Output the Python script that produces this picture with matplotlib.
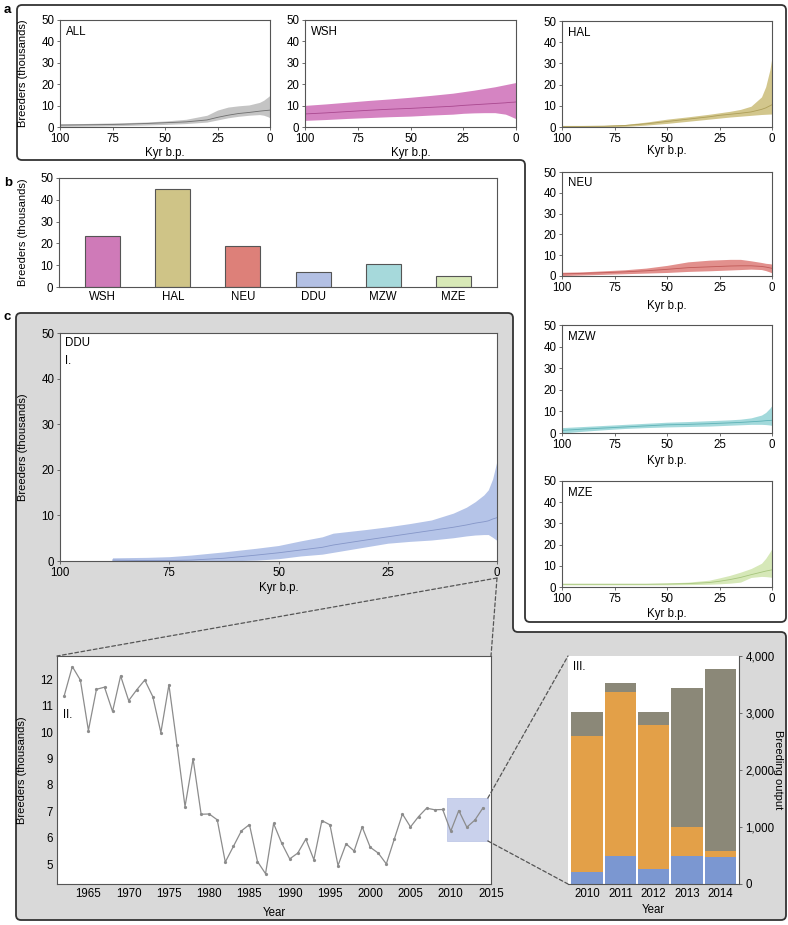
import numpy as np
import matplotlib
matplotlib.use('Agg')
import matplotlib.pyplot as plt
from matplotlib.path import Path
from matplotlib.patches import PathPatch, Rectangle, ConnectionPatch

plt.rcParams['font.family'] = ['Liberation Sans', 'DejaVu Sans']

# ---- data ----
KYR = [100, 90, 80, 70, 60, 50, 40, 30, 25, 20, 15, 10, 5, 3, 1, 0]

all_hi = [1.5, 1.6, 1.8, 2.0, 2.3, 2.8, 3.6, 5.5, 7.9, 9.3, 9.9, 10.3, 11.5, 12.5, 14.0, 14.8]
all_med = [0.9, 1.0, 1.1, 1.3, 1.6, 2.0, 2.4, 3.3, 4.5, 5.5, 6.3, 6.8, 7.4, 7.6, 7.8, 7.9]
all_lo = [0.3, 0.4, 0.5, 0.7, 0.9, 1.2, 1.6, 2.3, 3.3, 4.3, 5.0, 5.5, 5.8, 5.5, 4.8, 4.3]

wsh_hi = [10.1, 10.8, 11.6, 12.4, 13.1, 13.9, 14.8, 15.8, 16.5, 17.2, 18.0, 18.8, 19.8, 20.2, 20.6, 20.8]
wsh_med = [6.1, 6.6, 7.2, 7.8, 8.3, 8.7, 9.2, 9.7, 10.1, 10.4, 10.7, 11.0, 11.3, 11.5, 11.6, 11.7]
wsh_lo = [3.1, 3.5, 4.0, 4.4, 4.8, 5.1, 5.6, 6.0, 6.4, 6.6, 6.7, 6.7, 6.0, 5.2, 4.3, 3.9]

hal_hi = [0.6, 0.6, 0.7, 1.2, 2.3, 3.7, 4.8, 6.0, 6.7, 7.4, 8.3, 9.8, 14.2, 19.0, 27.0, 33.0]
hal_med = [0.3, 0.3, 0.4, 0.7, 1.5, 2.6, 3.7, 4.8, 5.5, 6.0, 6.5, 7.1, 8.3, 9.0, 10.0, 10.5]
hal_lo = [0.0, 0.0, 0.1, 0.3, 0.9, 1.7, 2.7, 3.7, 4.2, 4.7, 5.1, 5.5, 5.9, 6.0, 6.1, 6.1]

neu_hi = [1.8, 2.0, 2.5, 3.0, 3.8, 5.1, 6.8, 7.6, 7.8, 8.0, 8.0, 7.3, 6.5, 6.1, 5.9, 5.7]
neu_med = [1.0, 1.3, 1.6, 2.0, 2.5, 3.2, 4.0, 4.4, 4.6, 4.8, 4.9, 4.9, 4.6, 4.3, 3.9, 3.7]
neu_lo = [0.2, 0.5, 0.8, 1.1, 1.4, 1.7, 2.2, 2.5, 2.7, 2.9, 3.1, 3.3, 3.1, 2.6, 1.9, 1.5]

mzw_hi = [2.5, 3.0, 3.5, 4.0, 4.5, 5.0, 5.3, 5.7, 5.9, 6.1, 6.4, 7.0, 8.3, 9.5, 11.5, 12.8]
mzw_med = [1.2, 1.8, 2.3, 2.8, 3.3, 3.8, 4.0, 4.3, 4.5, 4.7, 4.9, 5.2, 5.5, 5.7, 5.8, 5.9]
mzw_lo = [0.0, 0.8, 1.5, 2.1, 2.5, 2.8, 3.0, 3.2, 3.4, 3.6, 3.8, 4.0, 4.0, 3.9, 3.7, 3.5]

mze_hi = [1.7, 1.7, 1.7, 1.7, 1.7, 1.9, 2.3, 3.2, 4.3, 5.5, 7.0, 8.7, 11.2, 13.5, 16.5, 18.2]
mze_med = [1.3, 1.3, 1.3, 1.3, 1.3, 1.4, 1.6, 2.1, 2.7, 3.5, 4.5, 5.8, 7.0, 7.5, 7.9, 8.1]
mze_lo = [1.0, 1.0, 1.0, 1.0, 1.0, 1.0, 1.1, 1.3, 1.5, 1.8, 2.3, 4.5, 5.0, 4.9, 4.7, 4.5]

DDU_KYR = [88, 80, 75, 70, 62.5, 55, 50, 45, 40, 37.5, 30, 25, 20, 15, 10, 7, 5, 3, 2, 1, 0]
ddu_hi = [0.7, 0.8, 0.95, 1.3, 2.0, 2.8, 3.4, 4.4, 5.3, 6.1, 6.9, 7.5, 8.2, 9.0, 10.5, 11.8, 13.0, 14.5, 15.6, 18.0, 22.0]
ddu_med = [0.2, 0.1, 0.1, 0.2, 0.6, 1.3, 1.8, 2.4, 3.0, 3.5, 4.6, 5.3, 6.0, 6.7, 7.4, 7.9, 8.3, 8.6, 8.8, 9.2, 9.5]
ddu_lo = [0.0, 0.0, 0.0, 0.0, 0.0, 0.2, 0.5, 1.1, 1.5, 1.9, 3.1, 3.9, 4.3, 4.6, 5.1, 5.5, 5.7, 5.8, 5.8, 5.2, 4.5]

regions = ['WSH', 'HAL', 'NEU', 'DDU', 'MZW', 'MZE']
current_breeders = [23.5, 45.0, 19.0, 7.1, 10.4, 5.0]
bar_colors = ['#cf7ab8', '#cfc487', '#dd8079', '#b3c0e4', '#a6d9db', '#d8e9b7']

years = list(range(1962, 2015))
breeders = [11.38, 12.48, 11.97, 10.06, 11.62, 11.70, 10.78, 12.13, 11.19, 11.60,
            11.97, 11.34, 9.98, 11.79, 9.52, 7.18, 8.99, 6.89, 6.90, 6.68,
            5.08, 5.67, 6.26, 6.50, 5.10, 4.64, 6.54, 5.80, 5.20, 5.42,
            5.95, 5.17, 6.65, 6.49, 4.95, 5.77, 5.50, 6.41, 5.64, 5.42,
            5.01, 5.96, 6.90, 6.41, 6.80, 7.12, 7.06, 7.07, 6.25, 7.03,
            6.40, 6.67, 7.13]

out_years = ['2010', '2011', '2012', '2013', '2014']
out_blue = [205, 491, 257, 497, 468]
out_orange = [2397, 2883, 2532, 503, 117]
out_grey = [421, 146, 234, 2444, 3187]

# ---- layout helpers (pixel coordinates, origin top-left) ----
W, H = 788, 925
fig = plt.figure(figsize=(W / 100, H / 100), dpi=100)


def frame(l, t, r, b):
    ax = fig.add_axes([l / W, 1 - b / H, (r - l) / W, (b - t) / H])
    ax.px_h = b - t
    for s in ax.spines.values():
        s.set_color('#555555')
        s.set_linewidth(0.8)
    ax.tick_params(direction='out', length=2.5, width=0.6, color='#555555',
                   labelsize=8.3, pad=1.5)
    return ax


def rounded_box(pts, r, **kw):
    verts, codes = [], []
    n = len(pts)
    for i in range(n):
        p0, p1, p2 = np.array(pts[i - 1], float), np.array(pts[i], float), np.array(pts[(i + 1) % n], float)
        d1 = (p0 - p1) / np.linalg.norm(p0 - p1)
        d2 = (p2 - p1) / np.linalg.norm(p2 - p1)
        verts.append(p1 + d1 * r)
        codes.append(Path.MOVETO if i == 0 else Path.LINETO)
        verts += [p1, p1 + d2 * r]
        codes += [Path.CURVE3, Path.CURVE3]
    verts.append(verts[0])
    codes.append(Path.CLOSEPOLY)
    verts = [(x / W, 1 - y / H) for x, y in verts]
    patch = PathPatch(Path(verts, codes), transform=fig.transFigure, zorder=-5, **kw)
    fig.patches.append(patch)


def xlab(ax, text, dy):
    ax.set_xlabel(text, fontsize=8.3)
    ax.xaxis.set_label_coords(0.5, -(dy - 5) / ax.px_h)


def ylab(ax, text, x_px, left_px, width_px):
    ax.set_ylabel(text, fontsize=8)
    ax.yaxis.set_label_coords((x_px - left_px) / width_px, 0.5)


def kyr_panel(ax, x, lo, med, hi, fill, line, name):
    ax.fill_between(x, lo, hi, color=fill, lw=0)
    ax.plot(x, med, color=line, lw=0.6)
    ax.set_xlim(100, 0)
    ax.set_ylim(0, 50)
    ax.set_xticks([100, 75, 50, 25, 0])
    ax.set_yticks(range(0, 51, 10))
    ax.text(0.03, 0.89, name, transform=ax.transAxes, fontsize=8.3, va='center')


# ---- boxes ----
rounded_box([(17, 5), (786, 5), (786, 622), (525, 622), (525, 160), (17, 160)], 5,
            facecolor='white', edgecolor='#333333', lw=1.3)
rounded_box([(16, 313), (513, 313), (513, 632), (786, 632), (786, 920), (16, 920)], 5,
            facecolor='#d9d9d9', edgecolor='#333333', lw=1.3)

for lbl, y in [('a', 10), ('b', 183), ('c', 317)]:
    fig.text(4 / W, 1 - y / H, lbl, fontsize=9.5, fontweight='bold', va='center')

# ---- panel a ----
specs = [
    ((60, 20, 270, 127), 'ALL', all_lo, all_med, all_hi, '#c4c4c4', '#6e6e6e', 25),
    ((305, 20, 516, 127), 'WSH', wsh_lo, wsh_med, wsh_hi, '#d584c2', '#a9488f', 25),
    ((562, 21, 772, 127), 'HAL', hal_lo, hal_med, hal_hi, '#d2c68c', '#ad9e58', 23),
    ((562, 172, 772, 276), 'NEU', neu_lo, neu_med, neu_hi, '#e2908d', '#c05a58', 29),
    ((562, 325, 772, 433), 'MZW', mzw_lo, mzw_med, mzw_hi, '#a2d9db', '#5eb2b6', 27),
    ((562, 481, 772, 587), 'MZE', mze_lo, mze_med, mze_hi, '#d6e8b8', '#a6c57d', 26),
]
for box, name, lo, med, hi, fc, lc, dy in specs:
    ax = frame(*box)
    kyr_panel(ax, KYR, lo, med, hi, fc, lc, name)
    xlab(ax, 'Kyr b.p.', dy)
    if name == 'ALL':
        ylab(ax, 'Breeders (thousands)', 28, 60, 210)

# ---- panel b ----
axb = frame(59, 178, 497, 287)
axb.bar(range(len(regions)), current_breeders, width=0.5, color=bar_colors,
        edgecolor='#555555', lw=0.8)
axb.set_xlim(-0.625, 5.625)
axb.set_ylim(0, 50)
axb.set_yticks(range(0, 51, 10))
axb.set_xticks(range(len(regions)))
axb.set_xticklabels(regions, fontsize=8.3)
axb.tick_params(axis='x', length=0, pad=3)
ylab(axb, 'Breeders (thousands)', 28, 59, 438)

# ---- panel c I ----
ax1 = frame(60, 333, 497, 561)
ax1.fill_between(DDU_KYR, ddu_lo, ddu_hi, color='#b5c4e8', lw=0)
ax1.plot(DDU_KYR, ddu_med, color='#8596c8', lw=0.6)
ax1.set_xlim(100, 0)
ax1.set_ylim(0, 50)
ax1.set_xticks([100, 75, 50, 25, 0])
ax1.set_yticks(range(0, 51, 10))
ax1.text(0.012, 0.955, 'DDU', transform=ax1.transAxes, fontsize=8.3, va='center')
ax1.text(0.012, 0.877, 'I.', transform=ax1.transAxes, fontsize=8.3, va='center')
xlab(ax1, 'Kyr b.p.', 26)
ylab(ax1, 'Breeders (thousands)', 28, 60, 437)

# ---- panel c II ----
ax2 = frame(57, 656, 491, 884)
ax2.add_patch(Rectangle((2009.5, 5.88), 5.1, 1.62, facecolor='#c9d1ec',
                        edgecolor='#b8c2e4', lw=0.5, zorder=1))
ax2.plot(years, breeders, color='#8c8c8c', lw=0.9, marker='o', ms=1.3, zorder=2)
ax2.set_xlim(1961.1, 2015)
ax2.set_ylim(4.25, 12.88)
ax2.set_xticks(range(1965, 2016, 5))
ax2.set_yticks(range(5, 13))
ax2.tick_params(length=0, pad=3)
ax2.text(0.014, 0.74, 'II.', transform=ax2.transAxes, fontsize=8.3, va='center')
xlab(ax2, 'Year', 28)
ylab(ax2, 'Breeders (thousands)', 27, 57, 434)

# ---- panel c III ----
ax3 = frame(568, 656, 739, 884)
xpos = np.arange(len(out_years))
b1 = np.array(out_blue)
b2 = b1 + np.array(out_orange)
ax3.bar(xpos, out_blue, width=0.94, color='#7b97d1')
ax3.bar(xpos, out_orange, bottom=b1, width=0.94, color='#e3a048')
ax3.bar(xpos, out_grey, bottom=b2, width=0.94, color='#8b8878')
ax3.set_xlim(-0.57, 4.56)
ax3.set_ylim(0, 4000)
ax3.set_xticks(xpos)
ax3.set_xticklabels(out_years)
ax3.yaxis.tick_right()
ax3.set_yticks(range(0, 4001, 1000))
ax3.set_yticklabels(['{:,}'.format(v) for v in range(0, 4001, 1000)])
ax3.spines['top'].set_visible(False)
ax3.spines['left'].set_visible(False)
ax3.tick_params(axis='x', length=0, pad=3)
ax3.tick_params(axis='y', pad=2)
ax3.text(0.03, 0.95, 'III.', transform=ax3.transAxes, fontsize=8.3, va='center')
ax3.text((778 - 568) / 171, 0.5, 'Breeding output', transform=ax3.transAxes,
         fontsize=8, rotation=270, ha='center', va='center')
xlab(ax3, 'Year', 25)

# ---- dashed connectors ----
dash = dict(color='#555555', lw=0.9, linestyle=(0, (3, 2)), zorder=3)
start = (1.0, -(578 - 561) / 228)
for target in [(0, 1), (1, 1)]:
    fig.add_artist(ConnectionPatch(xyA=start, coordsA=ax1.transAxes,
                                   xyB=target, coordsB=ax2.transAxes, **dash))
fig.add_artist(ConnectionPatch(xyA=(2014.6, 7.5), coordsA=ax2.transData,
                               xyB=(0, 1), coordsB=ax3.transAxes, **dash))
fig.add_artist(ConnectionPatch(xyA=(2014.6, 5.88), coordsA=ax2.transData,
                               xyB=(0, 0), coordsB=ax3.transAxes, **dash))

fig.savefig('out.png', dpi=100)
